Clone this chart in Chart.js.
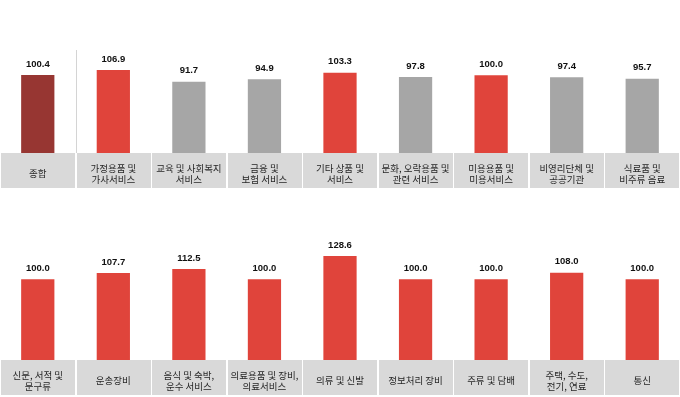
<!DOCTYPE html>
<html>
<head>
<meta charset="utf-8">
<script src="https://cdn.jsdelivr.net/npm/chart.js@4.4.1/dist/chart.umd.min.js"></script>
<style>
  html, body { margin: 0; padding: 0; background: #fff; }
  body { width: 680px; height: 397px; position: relative; overflow: hidden; }
  .row { position: absolute; left: 0; width: 680px; }
  #row1 { top: 0; height: 190px; }
  #row2 { top: 200px; height: 197px; }
</style>
</head>
<body>
<div class="row" id="row1"><canvas id="chart-top"></canvas></div>
<div class="row" id="row2"><canvas id="chart-bottom"></canvas></div>
<script>
// 상단: 종합 + 품목별 지수
const topLabels = [
    ['종합'], ['가정용품 및', '가사서비스'], ['교육 및 사회복지', '서비스'],
    ['금융 및', '보험 서비스'], ['기타 상품 및', '서비스'], ['문화, 오락용품 및', '관련 서비스'],
    ['미용용품 및', '미용서비스'], ['비영리단체 및', '공공기관'], ['식료품 및', '비주류 음료']
];
const topValues = [100.4, 106.9, 91.7, 94.9, 103.3, 97.8, 100.0, 97.4, 95.7];

// 하단
const bottomLabels = [
    ['신문, 서적 및', '문구류'], ['운송장비'], ['음식 및 숙박,', '운수 서비스'],
    ['의료용품 및 장비,', '의료서비스'], ['의류 및 신발'], ['정보처리 장비'],
    ['주류 및 담배'], ['주택, 수도,', '전기, 연료'], ['통신']
];
const bottomValues = [100.0, 107.7, 112.5, 100.0, 128.6, 100.0, 100.0, 108.0, 100.0];

const DARK_RED = '#973632';
const RED = '#e0443b';
const GRAY = '#a6a6a6';

function barColor(v, i, isTotalRow) {
    if (isTotalRow && i === 0) return DARK_RED;
    return v >= 100 ? RED : GRAY;
}

// gray boxes behind the category labels, plus the optional divider after "종합"
const labelBoxes = {
    id: 'labelBoxes',
    beforeDraw(chart, args, opts) {
        const x = chart.scales.x;
        const ctx = chart.ctx;
        const n = chart.data.labels.length;
        const w = (x.right - x.left) / n;
        ctx.save();
        ctx.fillStyle = '#d9d9d9';
        for (let i = 0; i < n; i++) {
            const l = x.left + i * w;
            ctx.fillRect(Math.round(l) + 1, x.top, Math.round(w) - 2, x.bottom - x.top);
        }
        if (opts.divider) {
            ctx.strokeStyle = '#d4d4d4';
            ctx.lineWidth = 1;
            const dx = Math.round(x.left + w) + 0.5;
            ctx.beginPath();
            ctx.moveTo(dx, opts.dividerTop);
            ctx.lineTo(dx, x.top);
            ctx.stroke();
        }
        ctx.restore();
    }
};

// value labels above bars
const valueLabels = {
    id: 'valueLabels',
    afterDatasetsDraw(chart) {
        const ctx = chart.ctx;
        const meta = chart.getDatasetMeta(0);
        const data = chart.data.datasets[0].data;
        ctx.save();
        ctx.font = 'bold 9.5px "Liberation Sans", Arial, sans-serif';
        ctx.fillStyle = '#111';
        ctx.textAlign = 'center';
        ctx.textBaseline = 'middle';
        meta.data.forEach((bar, i) => {
            ctx.fillText(data[i].toFixed(1), bar.x, bar.y - 11);
        });
        ctx.restore();
    }
};

function makeChart(id, labels, values, isTotalRow, padTop) {
    return new Chart(document.getElementById(id), {
        type: 'bar',
        data: {
            labels: labels,
            datasets: [{
                data: values,
                backgroundColor: values.map((v, i) => barColor(v, i, isTotalRow)),
                borderWidth: 0,
                categoryPercentage: 1,
                barPercentage: 0.44
            }]
        },
        options: {
            responsive: true,
            maintainAspectRatio: false,
            animation: false,
            events: [],
            layout: { padding: { left: 0, right: 0, top: padTop, bottom: 2 } },
            plugins: {
                legend: { display: false },
                tooltip: { enabled: false },
                labelBoxes: { divider: isTotalRow, dividerTop: 50 }
            },
            scales: {
                x: {
                    grid: { display: false },
                    border: { display: false },
                    afterFit(scale) { scale.height = 35; },
                    ticks: {
                        autoSkip: false,
                        maxRotation: 0,
                        minRotation: 0,
                        crossAlign: 'center',
                        padding: 7,
                        color: '#262626',
                        font: { family: '"Noto Sans CJK KR", sans-serif', size: 9.5, lineHeight: 1.2 }
                    }
                },
                y: {
                    display: false,
                    min: 0,
                    max: 160
                }
            }
        },
        plugins: [labelBoxes, valueLabels]
    });
}

makeChart('chart-top', topLabels, topValues, true, 28.7);
makeChart('chart-bottom', bottomLabels, bottomValues, false, 30.7);
</script>
</body>
</html>
